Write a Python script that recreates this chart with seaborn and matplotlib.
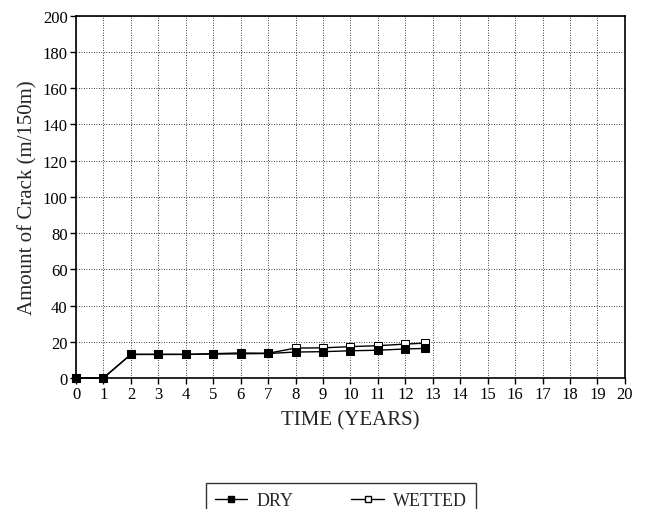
import matplotlib
matplotlib.use('Agg')
import matplotlib.pyplot as plt
import seaborn as sns
import pandas as pd
from matplotlib.lines import Line2D

# data
years = [0, 1, 2, 3, 4, 5, 6, 7, 8, 9, 10, 11, 12, 12.7]
dry = [0, 0, 13, 13, 13, 13.2, 13.3, 13.5, 14.3, 14.5, 15, 15.3, 16, 16.3]
wetted = [0, 0, 13, 13, 13, 13.4, 13.8, 13.6, 16.5, 16.6, 17.3, 17.8, 18.7, 19.2]

df = pd.DataFrame({
    'year': years * 2,
    'crack': dry + wetted,
    'series': ['DRY'] * len(years) + ['WETTED'] * len(years),
})

sns.set_style('ticks')
plt.rcParams['font.family'] = ['Liberation Serif', 'DejaVu Serif']

fig = plt.figure(figsize=(6.53, 5.10), dpi=100)
ax = fig.add_axes([0.1164, 0.257, 0.8406, 0.710])

sns.lineplot(data=df, x='year', y='crack', hue='series', style='series',
             palette=['black', 'black'], markers={'DRY': 's', 'WETTED': 's'},
             dashes=False, linewidth=1, markersize=6, ax=ax, legend=False)

# hollow squares for wetted
lines = ax.get_lines()
lines[0].set_markerfacecolor('black')
lines[0].set_markeredgecolor('black')
lines[1].set_markerfacecolor('white')
lines[1].set_markeredgecolor('black')
lines[1].set_zorder(3)
lines[0].set_zorder(4)
for ln in lines:
    ln.set_clip_on(False)

ax.set_xlim(0, 20)
ax.set_ylim(0, 200)
ax.set_xticks(range(0, 21))
ax.set_yticks(range(0, 201, 20))
ax.grid(True, color='black', linestyle=(0, (1, 2)), linewidth=0.6)
ax.tick_params(direction='out', length=4, width=1, labelsize=12, colors='black', pad=2)
for s in ax.spines.values():
    s.set_linewidth(1.2)
    s.set_color('black')

ax.set_xlabel('TIME (YEARS)', fontsize=15, labelpad=6)
ax.set_ylabel('Amount of Crack (m/150m)', fontsize=15, labelpad=4)

handles = [
    Line2D([], [], color='black', marker='s', markersize=5, markerfacecolor='black', lw=1),
    Line2D([], [], color='black', marker='s', markersize=5, markerfacecolor='white', lw=1),
]
leg = fig.legend(handles, ['DRY', 'WETTED'], loc='upper center', bbox_to_anchor=(0.522, 0.068),
                 ncol=2, fontsize=13, frameon=True, fancybox=False, edgecolor='black',
                 handlelength=1.8, handletextpad=0.5, columnspacing=3.2, borderpad=0.5)
leg.get_frame().set_linewidth(1)

fig.savefig('out.png', dpi=100)
